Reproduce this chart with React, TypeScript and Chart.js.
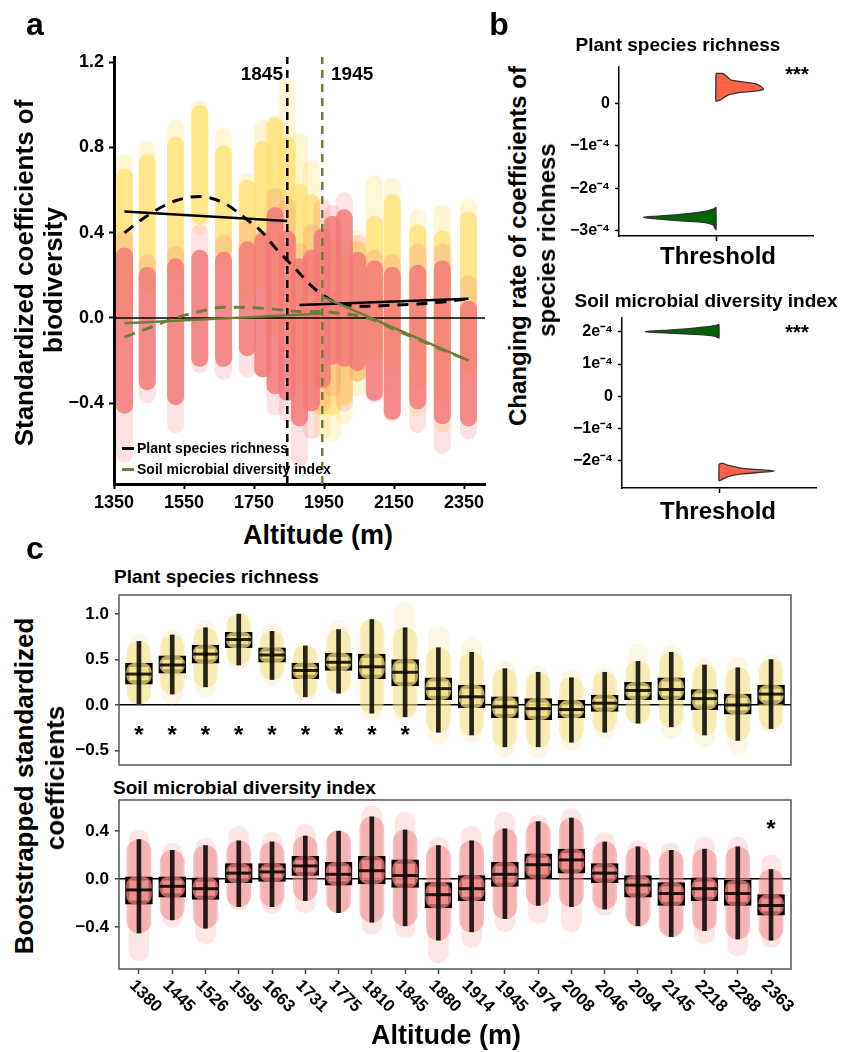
import React, { useEffect, useRef } from "react";
import { Chart, registerables } from "chart.js";

Chart.register(...registerables);

const FONT = "'Liberation Sans', Arial, Helvetica, sans-serif";

// ---------------- categories ----------------
const ALTITUDES = [1380, 1445, 1526, 1595, 1663, 1731, 1775, 1810, 1845, 1880, 1914, 1945, 1974, 2008, 2046, 2094, 2145, 2218, 2288, 2363];
const ALT_LABELS = ["1380", "1445", "1526", "1595", "1663", "1731", "1775", "1810", "1845", "1880", "1914", "1945", "1974", "2008", "2046", "2094", "2145", "2218", "2288", "2363"];

// ---------------- plant species richness (bootstrapped coefficients) ----------------
const PLANT_PT_MIN = [0.0, 0.0, 0.09, 0.39, 0.22, 0.04, 0.13, -0.17, -0.18, -0.43, -0.41, -0.57, -0.58, -0.5, -0.37, -0.22, -0.37, -0.46, -0.54, -0.3];
const PLANT_W_LO = [0.01, 0.12, 0.2, 0.44, 0.28, 0.09, 0.13, -0.09, -0.13, -0.3, -0.33, -0.46, -0.46, -0.41, -0.3, -0.2, -0.24, -0.33, -0.39, -0.26];
const PLANT_Q1 = [0.23, 0.35, 0.46, 0.63, 0.47, 0.29, 0.38, 0.29, 0.21, 0.06, -0.03, -0.14, -0.16, -0.14, -0.07, 0.06, 0.06, -0.05, -0.1, 0.01];
const PLANT_MED = [0.34, 0.44, 0.56, 0.72, 0.55, 0.38, 0.47, 0.42, 0.36, 0.18, 0.09, -0.02, -0.04, -0.05, 0.02, 0.16, 0.17, 0.07, 0.0, 0.12];
const PLANT_Q3 = [0.46, 0.54, 0.66, 0.8, 0.63, 0.46, 0.57, 0.56, 0.5, 0.3, 0.22, 0.09, 0.07, 0.05, 0.11, 0.25, 0.3, 0.17, 0.12, 0.22];
const PLANT_W_HI = [0.7, 0.77, 0.85, 1.0, 0.81, 0.65, 0.83, 0.94, 0.85, 0.63, 0.58, 0.4, 0.36, 0.3, 0.36, 0.48, 0.58, 0.44, 0.41, 0.5];
const PLANT_PT_MAX = [0.77, 0.83, 0.93, 1.02, 0.89, 0.68, 0.93, 0.95, 1.12, 0.87, 0.74, 0.48, 0.43, 0.39, 0.41, 0.67, 0.66, 0.51, 0.53, 0.56];
const PLANT_SIG = [1, 1, 1, 1, 1, 1, 1, 1, 1, 0, 0, 0, 0, 0, 0, 0, 0, 0, 0, 0];
const PLANT_STAR_Y = -0.27;

// ---------------- soil microbial diversity index ----------------
const SOIL_PT_MIN = [-0.68, -0.4, -0.54, -0.26, -0.29, -0.28, -0.28, -0.46, -0.49, -0.7, -0.57, -0.44, -0.37, -0.44, -0.3, -0.4, -0.49, -0.54, -0.64, -0.57];
const SOIL_W_LO = [-0.45, -0.34, -0.41, -0.23, -0.23, -0.18, -0.28, -0.36, -0.39, -0.51, -0.44, -0.33, -0.22, -0.23, -0.25, -0.39, -0.48, -0.43, -0.5, -0.51];
const SOIL_Q1 = [-0.21, -0.15, -0.17, -0.03, -0.02, 0.03, -0.05, -0.04, -0.07, -0.24, -0.18, -0.06, 0.0, 0.05, -0.03, -0.15, -0.22, -0.18, -0.22, -0.3];
const SOIL_MED = [-0.09, -0.06, -0.08, 0.05, 0.06, 0.11, 0.04, 0.07, 0.03, -0.13, -0.08, 0.04, 0.12, 0.16, 0.05, -0.05, -0.12, -0.08, -0.12, -0.22];
const SOIL_Q3 = [0.02, 0.02, 0.01, 0.13, 0.13, 0.19, 0.14, 0.19, 0.16, -0.03, 0.03, 0.14, 0.21, 0.25, 0.13, 0.03, -0.03, 0.01, -0.01, -0.13];
const SOIL_W_HI = [0.33, 0.24, 0.28, 0.32, 0.31, 0.36, 0.4, 0.52, 0.41, 0.28, 0.32, 0.42, 0.48, 0.51, 0.31, 0.27, 0.24, 0.25, 0.27, 0.08];
const SOIL_PT_MAX = [0.41, 0.3, 0.34, 0.44, 0.39, 0.46, 0.41, 0.61, 0.56, 0.35, 0.44, 0.56, 0.53, 0.59, 0.39, 0.32, 0.3, 0.35, 0.35, 0.2];
const SOIL_SIG = [0, 0, 0, 0, 0, 0, 0, 0, 0, 0, 0, 0, 0, 0, 0, 0, 0, 0, 0, 1];
const SOIL_STAR_Y = 0.46;

// ---------------- panel a: trends and piecewise fits ----------------
const PLANT_TREND = [0.4, 0.48, 0.55, 0.57, 0.54, 0.46, 0.4, 0.33, 0.27, 0.21, 0.15, 0.11, 0.08, 0.065, 0.055, 0.055, 0.06, 0.065, 0.075, 0.09];
const SOIL_TREND = [-0.09, -0.05, 0.0, 0.03, 0.05, 0.05, 0.045, 0.04, 0.035, 0.03, 0.03, 0.03, 0.025, 0.02, 0.01, -0.01, -0.05, -0.1, -0.15, -0.2];
const PLANT_FIT_LOW_X = [1380, 1845];
const PLANT_FIT_LOW_Y = [0.5, 0.455];
const PLANT_FIT_HIGH_X = [1880, 2363];
const PLANT_FIT_HIGH_Y = [0.06, 0.09];
const SOIL_FIT_LOW_X = [1380, 1945];
const SOIL_FIT_LOW_Y = [-0.025, 0.02];
const SOIL_FIT_HIGH_X = [1945, 2363];
const SOIL_FIT_HIGH_Y = [0.1, -0.2];
const THRESHOLD_PLANT = 1845;
const THRESHOLD_SOIL = 1945;
const A_X_TICKS = [1350, 1550, 1750, 1950, 2150, 2350];
const A_Y_TICKS = [-0.4, 0, 0.4, 0.8, 1.2];
const A_X_MIN = 1350;
const A_X_MAX = 2410;
const A_Y_MIN = -0.78;
const A_Y_MAX = 1.225;

// ---------------- panel b: half-violin outlines (units of 1e-4) ----------------
const B_PLANT_UP_Y = [0.7, 0.7, 0.63, 0.55, 0.5, 0.45, 0.38, 0.33, 0.29, 0.26, 0.21, 0.13, 0.07, 0.05];
const B_PLANT_UP_W = [0, 0.07, 0.11, 0.15, 0.28, 0.42, 0.47, 0.49, 0.42, 0.28, 0.15, 0.08, 0.04, 0];
const B_PLANT_DN_Y = [-2.44, -2.49, -2.55, -2.62, -2.66, -2.68, -2.71, -2.76, -2.8, -2.86, -2.97];
const B_PLANT_DN_W = [0, 0.03, 0.13, 0.4, 0.65, 0.75, 0.65, 0.4, 0.13, 0.03, 0];
const B_SOIL_UP_Y = [2.23, 2.2, 2.15, 2.1, 2.05, 2.02, 2.01, 1.99, 1.96, 1.93, 1.9, 1.86, 1.81];
const B_SOIL_UP_W = [0, 0.034, 0.14, 0.31, 0.52, 0.72, 0.76, 0.72, 0.52, 0.31, 0.14, 0.034, 0];
const B_SOIL_DN_Y = [-2.11, -2.08, -2.15, -2.24, -2.29, -2.32, -2.36, -2.41, -2.49, -2.58, -2.62];
const B_SOIL_DN_W = [0, 0.035, 0.1, 0.24, 0.45, 0.57, 0.45, 0.24, 0.1, 0.035, 0];
const B1_TICKS = [0, -1, -2, -3];
const B2_TICKS = [2, 1, 0, -1, -2];

const C1_TICKS = [-0.5, 0, 0.5, 1.0];
const C2_TICKS = [-0.4, 0, 0.4];

// ---------------- colours ----------------
const YEL_A = [255, 226, 118];
const PINK_A = [243, 122, 122];
const YEL_C = [242, 221, 125];
const PINK_C = [240, 128, 128];
const OLIVE = "#6f7d3a";
const RED_V = "#ff6347";
const GREEN_V = "#006400";

const rgba = (c: number[], a: number) => `rgba(${c[0]},${c[1]},${c[2]},${a})`;
const bold = (size: number) => ({ family: FONT, size, weight: "bold" as const });
const minusFmt = (v: number, d: number) => (v < 0 ? "\u2212" : "") + Math.abs(v).toFixed(d);
const expFmt = (v: number) => (v === 0 ? "0" : (v < 0 ? "\u2212" : "") + Math.abs(v) + "e\u207B\u2074");

function ChartCanvas({ left, top, width, height, make }: any) {
  const ref = useRef<HTMLCanvasElement | null>(null);
  useEffect(() => {
    if (!ref.current) return;
    const chart = new Chart(ref.current, make());
    return () => chart.destroy();
  }, []);
  return (
    <div style={{ position: "absolute", left, top, width, height }}>
      <canvas ref={ref} width={width} height={height} style={{ width, height, display: "block" }} />
    </div>
  );
}

function T({ x, y, size, children, align = "center", rotate = 0, color = "#000" }: any) {
  const tx = align === "center" ? "-50%" : align === "right" ? "-100%" : "0";
  return (
    <div
      style={{
        position: "absolute",
        left: x,
        top: y,
        transform: `translate(${tx}, -50%)${rotate ? ` rotate(${rotate}deg)` : ""}`,
        font: `bold ${size}px ${FONT}`,
        lineHeight: 1,
        whiteSpace: "nowrap",
        color,
      }}
    >
      {children}
    </div>
  );
}

const fixTicks = (vals: number[]) => (s: any) => {
  s.ticks = vals.map((v) => ({ value: v }));
};
const fitY = (w: number) => (s: any) => {
  s.width = w;
  s.paddingTop = 0;
  s.paddingBottom = 0;
};

// ---------------- panel a ----------------
function makeA() {
  const colBar = (lo: number[], hi: number[], color: string, order: number) => ({
    type: "bar",
    data: ALTITUDES.map((x, i) => ({ x, y: [lo[i], hi[i]] })),
    backgroundColor: color,
    borderWidth: 0,
    borderSkipped: false,
    borderRadius: 9,
    grouped: false,
    barPercentage: 3,
    categoryPercentage: 1,
    maxBarThickness: 17,
    order,
  });
  const seg = (xs: number[], ys: number[], color: string, dash: number[], width: number, order: number) => ({
    type: "line",
    data: xs.map((x, i) => ({ x, y: ys[i] })),
    borderColor: color,
    borderWidth: width,
    borderDash: dash,
    pointRadius: 0,
    fill: false,
    order,
  });
  const trend = (ys: number[], color: string) => ({
    type: "line",
    data: ALTITUDES.map((x, i) => ({ x, y: ys[i] })),
    borderColor: color,
    borderWidth: 3,
    borderDash: [11, 8],
    pointRadius: 0,
    fill: false,
    cubicInterpolationMode: "monotone",
    order: 2,
  });
  return {
    type: "bar",
    data: {
      datasets: [
        colBar(PLANT_PT_MIN, PLANT_PT_MAX, rgba(YEL_A, 0.3), 20),
        colBar(PLANT_W_LO, PLANT_W_HI, rgba(YEL_A, 0.8), 19),
        colBar(SOIL_PT_MIN, SOIL_PT_MAX, rgba(PINK_A, 0.22), 18),
        colBar(SOIL_W_LO, SOIL_W_HI, rgba(PINK_A, 0.85), 17),
        seg([THRESHOLD_PLANT, THRESHOLD_PLANT], [A_Y_MIN, A_Y_MAX], "#000", [8, 6], 2.5, 4),
        seg([THRESHOLD_SOIL, THRESHOLD_SOIL], [A_Y_MIN, A_Y_MAX], OLIVE, [8, 6], 2.5, 4),
        seg([A_X_MIN, A_X_MAX], [0, 0], "#000", [], 1.5, 3),
        trend(SOIL_TREND, OLIVE),
        trend(PLANT_TREND, "#000"),
        seg(SOIL_FIT_LOW_X, SOIL_FIT_LOW_Y, OLIVE, [], 2.5, 1),
        seg(SOIL_FIT_HIGH_X, SOIL_FIT_HIGH_Y, OLIVE, [], 2.5, 1),
        seg(PLANT_FIT_LOW_X, PLANT_FIT_LOW_Y, "#000", [], 2.5, 1),
        seg(PLANT_FIT_HIGH_X, PLANT_FIT_HIGH_Y, "#000", [], 2.5, 1),
      ],
    },
    options: {
      responsive: false,
      animation: false,
      layout: { autoPadding: false, padding: { top: 57, right: 5, left: 0, bottom: 0 } },
      plugins: { legend: { display: false }, tooltip: { enabled: false } },
      scales: {
        x: {
          type: "linear",
          min: A_X_MIN,
          max: A_X_MAX,
          offset: false,
          afterBuildTicks: fixTicks(A_X_TICKS),
          afterFit: (s: any) => { s.height = 31; },
          ticks: { font: bold(18), color: "#000", padding: 3, autoSkip: false, maxRotation: 0, callback: (v: number) => String(v) },
          grid: { display: true, offset: false, drawOnChartArea: false, tickLength: 5, tickColor: "#000", tickWidth: 2 },
          border: { display: true, color: "#000", width: 3 },
        },
        y: {
          type: "linear",
          min: A_Y_MIN,
          max: A_Y_MAX,
          afterBuildTicks: fixTicks(A_Y_TICKS),
          afterFit: fitY(114),
          ticks: { font: bold(18), color: "#000", padding: 5, callback: (v: number) => minusFmt(v, 1) },
          grid: { display: true, drawOnChartArea: false, tickLength: 5, tickColor: "#000", tickWidth: 2 },
          border: { display: true, color: "#000", width: 3 },
        },
      },
    },
  };
}

// ---------------- panel b ----------------
function violin(ys: number[], ws: number[], side: number, color: string) {
  const pts = ys.map((y, i) => ({ x: side * ws[i], y }));
  pts.push(pts[0]);
  return {
    type: "scatter",
    data: pts,
    showLine: true,
    fill: "shape",
    backgroundColor: color,
    borderColor: "#333",
    borderWidth: 1.3,
    pointRadius: 0,
    tension: 0.15,
  };
}

function makeB(ds: any[], yMin: number, yMax: number, ticks: number[], yWidth: number, padTop: number) {
  return {
    type: "scatter",
    data: { datasets: ds },
    options: {
      responsive: false,
      animation: false,
      layout: { autoPadding: false, padding: { top: padTop, right: 7, left: 0, bottom: 0 } },
      plugins: { legend: { display: false }, tooltip: { enabled: false } },
      scales: {
        x: {
          type: "linear",
          min: -1,
          max: 1,
          afterBuildTicks: fixTicks([0]),
          afterFit: (s: any) => { s.height = 10; s.paddingLeft = 0; s.paddingRight = 0; },
          ticks: { display: false },
          grid: { display: true, drawOnChartArea: false, tickLength: 5, tickColor: "#000", tickWidth: 1.5 },
          border: { display: true, color: "#000", width: 1.5 },
        },
        y: {
          type: "linear",
          min: yMin,
          max: yMax,
          afterBuildTicks: fixTicks(ticks),
          afterFit: fitY(yWidth),
          ticks: { font: bold(16), color: "#000", padding: 5, callback: (v: number) => expFmt(v) },
          grid: { display: true, drawOnChartArea: false, tickLength: 4, tickColor: "#000", tickWidth: 1.5 },
          border: { display: true, color: "#000", width: 1.5 },
        },
      },
    },
  };
}

// ---------------- panel c ----------------
const framePlugin = {
  id: "frame",
  afterDraw(chart: any) {
    const { ctx, chartArea } = chart;
    ctx.save();
    ctx.strokeStyle = "#555";
    ctx.lineWidth = 1.5;
    ctx.strokeRect(chartArea.left, chartArea.top, chartArea.right - chartArea.left, chartArea.bottom - chartArea.top);
    ctx.restore();
  },
};

const starsPlugin = (sig: number[], yVal: number) => ({
  id: "stars",
  afterDraw(chart: any) {
    const { ctx } = chart;
    const xs = chart.scales.x;
    const ys = chart.scales.y;
    ctx.save();
    ctx.font = `bold 24px ${FONT}`;
    ctx.textAlign = "center";
    ctx.textBaseline = "alphabetic";
    ctx.fillStyle = "#000";
    sig.forEach((s, i) => {
      if (s) ctx.fillText("*", xs.getPixelForValue(i), ys.getPixelForValue(yVal) + 13);
    });
    ctx.restore();
  },
});

const rotatedLabelsPlugin = {
  id: "rotLabels",
  afterDraw(chart: any) {
    const { ctx } = chart;
    const xs = chart.scales.x;
    ctx.save();
    ctx.font = `bold 17px ${FONT}`;
    ctx.fillStyle = "#000";
    ctx.textAlign = "left";
    ctx.textBaseline = "middle";
    ALT_LABELS.forEach((lab, i) => {
      const px = xs.getPixelForValue(i);
      ctx.save();
      ctx.translate(px - 7, xs.top + 14);
      ctx.rotate(Math.PI / 4);
      ctx.fillText(lab, 0, 0);
      ctx.restore();
    });
    ctx.restore();
  },
};

function makeC(d: any, yMin: number, yMax: number, ticks: number[], bottomAxis: boolean, padBottom: number) {
  const rng = (lo: number[], hi: number[]) => ALTITUDES.map((_, i) => ({ x: i, y: [lo[i], hi[i]] }));
  const bar = (data: any, bg: string, thick: number, radius: number, order: number, bw = 0) => ({
    type: "bar",
    data,
    backgroundColor: bg,
    borderColor: "#000",
    borderWidth: bw,
    borderSkipped: false,
    borderRadius: radius,
    grouped: false,
    barPercentage: 1,
    categoryPercentage: 1,
    maxBarThickness: thick,
    order,
  });
  const col = d.rgb;
  return {
    type: "bar",
    data: {
      datasets: [
        bar(rng(d.pmin, d.pmax), rgba(col, 0.2), 20, 10, 20),
        bar(rng(d.wlo, d.whi), rgba(col, 0.5), 24, 12, 19),
        bar(rng(d.q1, d.q3), "rgba(0,0,0,0)", 27, 0, 18, 3.5),
        bar(rng(d.q1, d.q3), rgba(col, 0.75), 25, 9, 17),
        bar(rng(d.wlo, d.whi), "rgba(0,0,0,0.85)", 4, 0, 16),
        {
          type: "scatter",
          data: d.med.map((m: number, i: number) => ({ x: i, y: m })),
          pointStyle: "line",
          pointRadius: 13,
          pointBorderColor: "rgba(0,0,0,0.85)",
          pointBorderWidth: 3,
          borderColor: "#000",
          order: 15,
        },
      ],
    },
    plugins: bottomAxis ? [framePlugin, starsPlugin(d.sig, d.starY), rotatedLabelsPlugin] : [framePlugin, starsPlugin(d.sig, d.starY)],
    options: {
      responsive: false,
      animation: false,
      layout: { autoPadding: false, padding: { top: 5, right: 5, left: 0, bottom: padBottom } },
      plugins: { legend: { display: false }, tooltip: { enabled: false } },
      scales: {
        x: {
          type: "linear",
          display: bottomAxis,
          min: -0.6,
          max: 19.6,
          offset: false,
          afterBuildTicks: fixTicks(ALTITUDES.map((_, i) => i)),
          afterFit: (s: any) => { s.height = bottomAxis ? 83 : 0; s.paddingLeft = 0; s.paddingRight = 0; },
          ticks: { display: false },
          grid: { display: true, offset: false, drawOnChartArea: false, tickLength: 5, tickColor: "#444", tickWidth: 1.5 },
          border: { display: false },
        },
        y: {
          type: "linear",
          min: yMin,
          max: yMax,
          z: 1,
          afterBuildTicks: fixTicks(ticks),
          afterFit: fitY(64),
          ticks: { font: bold(17), color: "#000", padding: 6, callback: (v: number) => minusFmt(v, 1) },
          grid: {
            display: true,
            drawOnChartArea: true,
            color: (ctx: any) => (ctx.tick && ctx.tick.value === 0 ? "#000" : "rgba(0,0,0,0)"),
            lineWidth: 1.6,
            tickLength: 4,
            tickColor: "#444",
            tickWidth: 1.5,
          },
          border: { display: false },
        },
      },
    },
  };
}

const PLANT_BOOT = { pmin: PLANT_PT_MIN, wlo: PLANT_W_LO, q1: PLANT_Q1, med: PLANT_MED, q3: PLANT_Q3, whi: PLANT_W_HI, pmax: PLANT_PT_MAX, sig: PLANT_SIG, starY: PLANT_STAR_Y, rgb: YEL_C };
const SOIL_BOOT = { pmin: SOIL_PT_MIN, wlo: SOIL_W_LO, q1: SOIL_Q1, med: SOIL_MED, q3: SOIL_Q3, whi: SOIL_W_HI, pmax: SOIL_PT_MAX, sig: SOIL_SIG, starY: SOIL_STAR_Y, rgb: PINK_C };

export default function App() {
  return (
    <div style={{ position: "absolute", left: 0, top: 0, width: 845, height: 1052, overflow: "hidden", background: "#fff", fontFamily: FONT }}>
      {/* panel a */}
      <ChartCanvas left={0} top={0} width={490} height={515} make={makeA} />
      <T x={35} y={24} size={32}>a</T>
      <T x={283} y={73} size={19} align="right">1845</T>
      <T x={331} y={73} size={19} align="left">1945</T>
      <T x={24} y={273} size={26} rotate={-90}>Standardized coefficients of</T>
      <T x={53} y={280} size={26} rotate={-90}>biodiversity</T>
      <T x={318} y={535} size={27}>Altitude (m)</T>
      <div style={{ position: "absolute", left: 122, top: 447, width: 12, height: 3, background: "#000" }} />
      <T x={137} y={448} size={14} align="left">Plant species richness</T>
      <div style={{ position: "absolute", left: 122, top: 468, width: 12, height: 3, background: OLIVE }} />
      <T x={137} y={469} size={14} align="left">Soil microbial diversity index</T>

      {/* panel b */}
      <T x={499} y={24} size={32}>b</T>
      <T x={678} y={44} size={19}>Plant species richness</T>
      <ChartCanvas
        left={555}
        top={60}
        width={265}
        height={186}
        make={() => makeB([violin(B_PLANT_UP_Y, B_PLANT_UP_W, 1, RED_V), violin(B_PLANT_DN_Y, B_PLANT_DN_W, -1, GREEN_V)], -3.12, 0.85, B1_TICKS, 64, 7)}
      />
      <T x={797} y={74} size={20}>***</T>
      <T x={718} y={256} size={24}>Threshold</T>
      <T x={706} y={300} size={19}>Soil microbial diversity index</T>
      <ChartCanvas
        left={555}
        top={310}
        width={268}
        height={188}
        make={() => makeB([violin(B_SOIL_UP_Y, B_SOIL_UP_W, -1, GREEN_V), violin(B_SOIL_DN_Y, B_SOIL_DN_W, 1, RED_V)], -2.85, 2.43, B2_TICKS, 67, 8)}
      />
      <T x={797} y={332} size={20}>***</T>
      <T x={718} y={511} size={24}>Threshold</T>
      <T x={518} y={246} size={24} rotate={-90}>Changing rate of coefficients of</T>
      <T x={547} y={240} size={24} rotate={-90}>species richness</T>

      {/* panel c */}
      <T x={35} y={548} size={32}>c</T>
      <T x={114} y={576} size={19} align="left">Plant species richness</T>
      <ChartCanvas left={55} top={590} width={741} height={178} make={() => makeC(PLANT_BOOT, -0.66, 1.21, C1_TICKS, false, 3)} />
      <T x={113} y={787} size={19} align="left">Soil microbial diversity index</T>
      <ChartCanvas left={55} top={795} width={741} height={257} make={() => makeC(SOIL_BOOT, -0.75, 0.66, C2_TICKS, true, 0)} />
      <T x={24} y={786} size={26} rotate={-90}>Bootstrapped standardized</T>
      <T x={55} y={778} size={26} rotate={-90}>coefficients</T>
      <T x={446} y={1035} size={27}>Altitude (m)</T>
    </div>
  );
}
